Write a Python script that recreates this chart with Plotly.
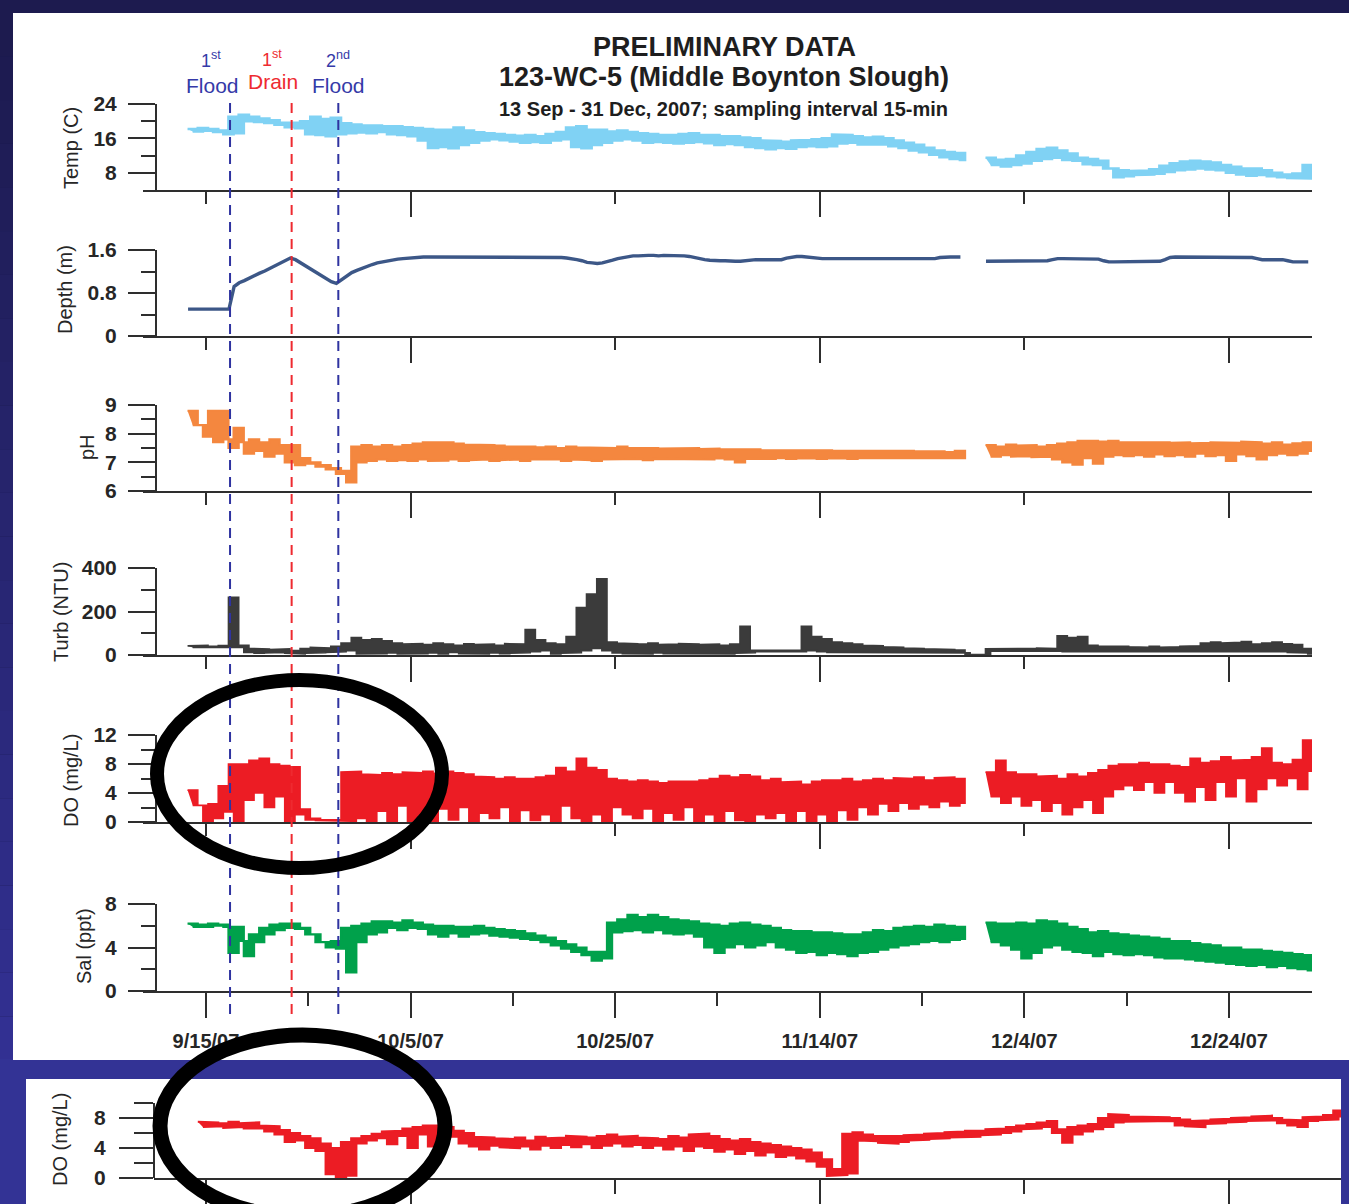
import pandas as pd
import plotly.graph_objects as go

W, H = 1349, 1204
T0 = pd.Timestamp("2007-09-13")   # day index 0

# ---------------- data (daily low / high, day 0 = 13 Sep 2007) ----------------
temp_lo = [17.6, 17.8, 17.5, 17.0, 17.2, 20.0, 19.8, 19.6, 19.2, 18.6,
           18.4, 17.0, 16.8, 16.5, 17.0, 17.2, 17.4, 17.2, 17.5, 17.0,
           16.8, 16.5, 15.5, 13.8, 14.0, 13.7, 14.5, 15.0, 15.5, 15.8,
           15.6, 15.3, 15.0, 15.2, 15.0, 15.5, 15.8, 14.0, 13.7, 14.5,
           15.0, 15.5, 15.8, 15.5, 15.0, 15.2, 15.0, 14.8, 15.0, 15.2,
           14.9, 14.5, 14.7, 14.5, 14.0, 13.8, 13.5, 13.8, 13.6, 14.0,
           14.2, 14.0, 14.2, 14.8, 15.0, 14.6, 14.5, 14.6, 14.2, 13.8,
           13.2, 12.8, 12.2, 11.6, 11.2, 11.0, None, None, 9.8, 9.5,
           9.8, 10.2, 10.8, 11.2, 11.5, 11.0, 10.8, 10.0, 9.8, 9.0,
           7.0, 7.2, 7.5, 7.6, 7.8, 8.2, 8.6, 8.8, 9.0, 8.8,
           8.6, 8.0, 7.6, 7.3, 7.5, 7.2, 7.0, 6.8, 6.8, 6.7]
temp_hi = [18.2, 18.4, 18.2, 17.8, 21.0, 21.5, 21.0, 20.6, 20.2, 19.6,
           19.6, 20.0, 21.0, 20.5, 20.8, 19.5, 19.2, 19.0, 19.0, 18.8,
           18.8, 18.6, 18.4, 18.2, 18.0, 18.0, 18.5, 17.8, 17.4, 17.2,
           17.0, 16.8, 16.6, 16.8, 16.5, 17.0, 17.5, 18.5, 18.8, 18.0,
           18.0, 17.6, 17.8, 17.5, 17.2, 17.0, 16.8, 16.8, 17.0, 17.2,
           16.8, 16.8, 16.5, 16.5, 16.2, 16.0, 15.5, 15.4, 15.2, 15.5,
           15.6, 15.8, 16.0, 16.9, 16.8, 16.5, 16.2, 16.4, 16.0, 15.5,
           15.0, 14.5, 13.8, 13.2, 12.8, 12.6, None, None, 11.5, 11.0,
           11.2, 12.0, 12.8, 13.5, 13.8, 13.2, 12.5, 11.5, 11.2, 10.8,
           9.0, 8.6, 8.4, 8.5, 8.8, 9.6, 10.2, 10.6, 10.8, 10.6,
           10.4, 9.8, 9.4, 9.0, 9.0, 8.6, 8.0, 7.6, 7.8, 9.8]

depth_lo = [0.5, 0.5, 0.5, 0.5, 0.5, 0.99, 1.08, 1.17, 1.26, 1.35,
            1.45, 1.36, 1.25, 1.13, 1.01, 1.05, 1.18, 1.26, 1.33, 1.38,
            1.42, 1.44, 1.46, 1.47, 1.47, 1.46, 1.47, 1.47, 1.46, 1.47,
            1.47, 1.46, 1.47, 1.47, 1.46, 1.47, 1.46, 1.45, 1.42, 1.37,
            1.35, 1.38, 1.44, 1.48, 1.49, 1.5, 1.49, 1.5, 1.49, 1.48,
            1.43, 1.41, 1.4, 1.39, 1.39, 1.42, 1.42, 1.42, 1.42, 1.47,
            1.48, 1.45, 1.44, 1.44, 1.44, 1.44, 1.45, 1.44, 1.44, 1.44,
            1.44, 1.44, 1.45, 1.44, 1.47, 1.47, None, None, 1.39, 1.39,
            1.39, 1.39, 1.39, 1.39, 1.4, 1.44, 1.44, 1.44, 1.44, 1.43,
            1.38, 1.38, 1.38, 1.38, 1.38, 1.39, 1.46, 1.47, 1.47, 1.47,
            1.47, 1.47, 1.47, 1.47, 1.46, 1.42, 1.42, 1.42, 1.38, 1.38]
depth_hi = [0.5, 0.5, 0.5, 0.5, 0.92, 1.03, 1.12, 1.21, 1.31, 1.4,
            1.42, 1.3, 1.19, 1.07, 0.98, 1.12, 1.22, 1.3, 1.36, 1.4,
            1.43, 1.45, 1.46, 1.47, 1.47, 1.46, 1.47, 1.47, 1.46, 1.47,
            1.47, 1.46, 1.47, 1.47, 1.46, 1.47, 1.46, 1.44, 1.4, 1.36,
            1.36, 1.41, 1.46, 1.49, 1.5, 1.5, 1.5, 1.5, 1.49, 1.46,
            1.42, 1.4, 1.4, 1.39, 1.4, 1.42, 1.42, 1.42, 1.45, 1.48,
            1.47, 1.44, 1.44, 1.44, 1.44, 1.45, 1.44, 1.44, 1.44, 1.44,
            1.44, 1.45, 1.44, 1.46, 1.47, 1.47, None, None, 1.39, 1.39,
            1.39, 1.39, 1.39, 1.39, 1.42, 1.44, 1.44, 1.44, 1.43, 1.4,
            1.38, 1.38, 1.38, 1.38, 1.38, 1.42, 1.47, 1.47, 1.47, 1.47,
            1.47, 1.47, 1.47, 1.47, 1.44, 1.42, 1.42, 1.4, 1.38, 1.38]

ph_lo = [8.3, 7.9, 7.7, 7.8, 8.2, 7.3, 7.4, 7.2, 7.3, 7.0,
         6.9, 6.95, 6.85, 6.75, 6.6, 6.3, 7.0, 7.05, 7.1, 7.05,
         7.08, 7.05, 7.1, 7.05, 7.06, 7.1, 7.05, 7.08, 7.1, 7.05,
         7.08, 7.1, 7.05, 7.1, 7.08, 7.1, 7.05, 7.1, 7.08, 7.05,
         7.1, 7.12, 7.1, 7.12, 7.08, 7.12, 7.1, 7.12, 7.1, 7.12,
         7.1, 7.14, 7.1, 7.0, 7.12, 7.14, 7.12, 7.15, 7.12, 7.14,
         7.15, 7.12, 7.14, 7.15, 7.12, 7.15, 7.14, 7.16, 7.14, 7.15,
         7.16, 7.14, 7.15, 7.16, 7.14, 7.15, None, None, 7.2, 7.25,
         7.2, 7.22, 7.18, 7.2, 7.1, 7.0, 6.92, 7.15, 6.95, 7.2,
         7.25, 7.22, 7.25, 7.2, 7.28, 7.22, 7.25, 7.2, 7.3, 7.22,
         7.25, 7.05, 7.28, 7.22, 7.1, 7.25, 7.3, 7.25, 7.3, 7.4]
ph_hi = [8.8, 8.3, 8.8, 8.8, 7.5, 7.7, 7.8, 7.7, 7.8, 7.6,
         7.6, 7.15, 7.0, 6.9, 6.8, 6.7, 7.55, 7.6, 7.55, 7.6,
         7.55, 7.6, 7.65, 7.7, 7.68, 7.7, 7.65, 7.62, 7.6, 7.6,
         7.58, 7.55, 7.56, 7.55, 7.52, 7.55, 7.5, 7.55, 7.52, 7.5,
         7.52, 7.5, 7.55, 7.5, 7.52, 7.5, 7.48, 7.5, 7.48, 7.5,
         7.46, 7.48, 7.45, 7.46, 7.44, 7.45, 7.42, 7.44, 7.42, 7.43,
         7.42, 7.44, 7.42, 7.4, 7.42, 7.4, 7.42, 7.4, 7.4, 7.42,
         7.4, 7.38, 7.4, 7.38, 7.36, 7.4, None, None, 7.6, 7.55,
         7.62, 7.58, 7.6, 7.55, 7.6, 7.65, 7.7, 7.75, 7.75, 7.72,
         7.75, 7.7, 7.72, 7.7, 7.72, 7.7, 7.68, 7.7, 7.66, 7.68,
         7.7, 7.7, 7.68, 7.72, 7.7, 7.65, 7.7, 7.62, 7.66, 7.7]

turb_lo = [35, 38, 36, 38, 35, 12, 8, 10, 12, 8,
           5, 8, 10, 12, 15, 20, 5, 8, 6, 10,
           5, 8, 6, 10, 5, 12, 6, 8, 5, 10,
           6, 8, 10, 15, 20, 5, 8, 10, 20, 30,
           20, 10, 6, 8, 5, 10, 6, 8, 5, 8,
           6, 8, 5, 8, 10, 15, 16, 15, 16, 15,
           20, 15, 12, 10, 12, 10, 10, 12, 10, 10,
           10, 12, 10, 10, 12, 10, 2, 2, 18, 20,
           18, 20, 18, 20, 18, 15, 15, 12, 15, 12,
           15, 12, 15, 15, 12, 15, 12, 15, 15, 15,
           12, 15, 15, 12, 15, 12, 15, 12, 10, 5]
turb_hi = [42, 45, 40, 44, 265, 45, 30, 28, 25, 28,
           20, 30, 35, 32, 40, 55, 80, 70, 75, 65,
           55, 50, 52, 48, 55, 50, 45, 52, 48, 50,
           45, 52, 50, 117, 70, 55, 50, 85, 218, 280,
           350, 60, 55, 52, 50, 55, 48, 50, 52, 50,
           48, 50, 45, 50, 132, 22, 20, 22, 20, 22,
           132, 85, 75, 60, 55, 50, 45, 42, 38, 35,
           32, 30, 28, 26, 25, 23, 2, 2, 28, 30,
           30, 28, 30, 32, 30, 88, 80, 85, 45, 40,
           42, 40, 38, 35, 40, 35, 38, 40, 42, 55,
           60, 55, 58, 62, 50, 55, 60, 52, 48, 30]

do_lo = [2.3, 0.0, 0.5, 1.4, 0.0, 3.0, 4.0, 2.0, 3.5, 0.0,
         1.0, 0.3, 0.2, 0.2, 0.2, 0.1, 0.5, 0.0, 1.5, 0.0,
         2.2, 0.0, 1.0, 0.0, 1.8, 0.3, 2.0, 0.0, 1.2, 0.5,
         2.0, 0.0, 1.6, 0.2, 1.0, 0.0, 2.2, 0.5, 0.0, 1.0,
         0.0, 2.0, 1.0, 0.5, 1.8, 0.0, 1.2, 0.3, 2.0, 0.0,
         1.0, 0.0, 1.5, 0.2, 0.0, 1.0, 0.5, 1.2, 0.0, 1.5,
         0.0, 1.0, 0.0, 1.6, 0.3, 2.0, 1.0, 2.5, 1.5, 2.6,
         1.8, 2.4, 2.0, 2.8, 2.2, 2.6, None, None, 3.5, 2.6,
         3.5, 2.2, 3.0, 1.5, 2.6, 1.0, 2.0, 3.0, 1.2, 3.5,
         4.5, 5.0, 4.4, 5.5, 4.0, 5.5, 4.0, 2.8, 4.8, 3.0,
         5.5, 3.5, 6.0, 2.8, 4.5, 6.0, 5.0, 6.0, 4.5, 7.0]
do_hi = [4.4, 2.3, 2.5, 5.0, 8.0, 8.0, 8.5, 8.8, 8.0, 7.8,
         7.6, 1.8, 0.5, 0.3, 0.3, 6.9, 7.0, 6.6, 6.5, 6.8,
         6.6, 6.9, 6.8, 7.0, 6.7, 7.0, 6.8, 6.6, 6.3, 6.2,
         6.0, 6.2, 6.0, 6.0, 6.2, 6.4, 7.5, 7.0, 8.8, 7.5,
         7.2, 6.0, 5.8, 5.6, 5.8, 5.6, 5.4, 5.6, 5.5, 5.6,
         5.8, 6.0, 6.4, 6.2, 6.5, 6.3, 5.8, 6.0, 5.5, 5.6,
         5.2, 5.6, 5.8, 5.8, 6.0, 5.6, 5.8, 6.0, 5.8, 6.1,
         6.0, 6.2, 5.8, 6.1, 6.2, 6.0, None, None, 6.9, 8.5,
         6.9, 6.6, 6.6, 6.3, 6.4, 6.0, 6.6, 6.3, 6.8, 7.2,
         7.8, 8.0, 8.0, 8.2, 8.0, 8.0, 7.8, 7.6, 8.8, 8.2,
         8.4, 9.0, 8.5, 8.6, 9.0, 10.2, 8.2, 8.0, 8.6, 11.3]

sal_lo = [5.9, 5.9, 6.0, 5.9, 5.9, 3.2, 4.5, 5.2, 5.6, 5.8,
          5.7, 5.2, 4.5, 4.0, 3.9, 1.7, 4.5, 5.2, 5.4, 5.8,
          5.6, 5.8, 5.7, 5.2, 5.0, 5.3, 5.0, 5.2, 5.3, 5.1,
          5.0, 4.9, 4.8, 4.7, 4.5, 4.2, 3.9, 3.6, 3.3, 2.8,
          3.0, 5.4, 5.5, 5.6, 5.4, 5.6, 5.3, 5.2, 5.3, 5.0,
          4.0, 3.5, 4.0, 4.3, 4.0, 4.2, 4.5, 4.0, 3.8, 3.5,
          3.6, 3.3, 3.5, 3.4, 3.2, 3.5, 3.6, 3.8, 4.0, 4.2,
          4.3, 4.5, 4.6, 4.5, 4.7, 4.8, None, None, 4.5, 4.2,
          3.8, 3.0, 3.5, 4.0, 4.2, 3.8, 3.6, 3.5, 3.2, 3.6,
          3.4, 3.3, 3.4, 3.3, 3.1, 3.0, 3.0, 2.9, 2.8, 2.7,
          2.6, 2.5, 2.4, 2.3, 2.4, 2.2, 2.3, 2.1, 2.0, 1.9]
sal_hi = [6.2, 6.1, 6.2, 6.1, 3.5, 4.6, 5.2, 5.8, 6.1, 6.2,
          6.2, 5.8, 5.2, 4.5, 4.6, 5.8, 6.0, 6.2, 6.4, 6.4,
          6.3, 6.5, 6.3, 6.1, 6.0, 6.0, 5.9, 5.9, 6.0, 5.8,
          5.7, 5.6, 5.5, 5.3, 5.1, 4.9, 4.6, 4.3, 4.0, 3.6,
          3.6, 6.3, 6.6, 7.0, 6.8, 7.0, 6.8, 6.6, 6.5, 6.4,
          6.2, 6.1, 6.0, 6.2, 6.3, 6.1, 6.0, 5.8, 5.6, 5.5,
          5.5, 5.4, 5.4, 5.3, 5.2, 5.2, 5.4, 5.6, 5.5, 5.8,
          5.9, 6.0, 5.9, 6.1, 6.0, 5.9, None, None, 6.3, 6.2,
          6.2, 6.3, 6.2, 6.5, 6.4, 6.2, 5.9, 5.7, 5.4, 5.5,
          5.3, 5.2, 5.1, 5.0, 4.9, 4.8, 4.6, 4.6, 4.4, 4.3,
          4.2, 4.0, 4.0, 3.8, 3.8, 3.7, 3.6, 3.5, 3.4, 3.3]

# lower strip: second DO record
do2_lo = [None, 6.8, 6.9, 6.7, 6.8, 6.6, 6.6, 6.2, 5.8, 4.8,
          5.0, 4.0, 3.6, 0.5, 0.0, 0.3, 4.6, 5.0, 5.3, 4.5,
          5.6, 4.0, 5.8, 4.2, 6.0, 5.5, 4.6, 4.2, 3.8, 4.3,
          4.1, 4.0, 4.2, 3.8, 4.3, 4.0, 4.4, 4.1, 4.5, 4.0,
          4.3, 4.6, 4.2, 4.4, 4.0, 4.3, 3.8, 4.2, 3.6, 4.2,
          4.0, 3.5, 3.8, 3.2, 3.6, 3.0, 3.4, 2.8, 3.0, 2.6,
          2.2, 1.5, 0.3, 0.4, 0.6, 5.0, 4.9, 4.7, 4.6, 4.8,
          5.0, 5.1, 5.2, 5.3, 5.4, 5.5, 5.5, 5.7, 5.8, 6.0,
          6.2, 6.5, 6.6, 6.8, 6.0, 4.7, 5.8, 6.2, 6.5, 6.8,
          7.4, 7.5, 7.6, 7.5, 7.6, 7.6, 7.0, 6.9, 6.8, 7.2,
          7.3, 7.4, 7.5, 7.6, 7.6, 7.7, 7.3, 7.0, 6.8, 7.6,
          7.7, 7.8, 8.2]
do2_hi = [None, 7.5, 7.4, 7.3, 7.5, 7.3, 7.4, 7.0, 6.9, 6.4,
          6.0, 5.6, 5.3, 4.6, 4.0, 4.8, 5.3, 5.6, 5.9, 6.2,
          6.3, 6.6, 6.8, 7.0, 7.0, 6.8, 6.3, 6.0, 5.5, 5.4,
          5.3, 5.2, 5.4, 5.0, 5.5, 5.3, 5.4, 5.6, 5.5, 5.4,
          5.6, 5.8, 5.5, 5.6, 5.4, 5.3, 5.2, 5.6, 5.4, 5.8,
          5.9, 5.6, 5.2, 5.0, 5.2, 4.8, 4.6, 4.4, 4.2, 4.0,
          3.8, 3.4, 2.5, 1.2, 5.9, 6.1, 5.8, 5.6, 5.5, 5.6,
          5.7, 5.8, 5.9, 6.0, 6.1, 6.2, 6.3, 6.3, 6.5, 6.6,
          6.8, 7.0, 7.2, 7.4, 7.6, 6.5, 6.8, 7.0, 7.2, 8.0,
          8.5, 8.4, 8.2, 8.2, 8.1, 8.1, 8.0, 7.8, 7.6, 7.7,
          7.8, 7.9, 8.0, 8.1, 8.2, 8.3, 8.0, 7.8, 7.7, 8.1,
          8.2, 8.4, 9.0]

events = ["2007-09-17 08:30", "2007-09-23 09:00", "2007-09-27 22:30"]
date_ticks = ["2007-09-15", "2007-10-05", "2007-10-25", "2007-11-14", "2007-12-04", "2007-12-24"]
date_labels = ["9/15/07", "10/5/07", "10/25/07", "11/14/07", "12/4/07", "12/24/07"]
ten_day_ticks = ["2007-09-25", "2007-10-15", "2007-11-04", "2007-11-24", "2007-12-14"]

# ---------------- helpers ----------------
def px_x(p):
    return p / W

def px_y(p):
    return 1 - p / H

def px_date(p):
    return T0 + pd.Timedelta(days=(p - 185.5) / 10.23)

def day(d):
    return T0 + pd.Timedelta(days=d)

def band_xy(lo, hi):
    """Closed step polygon between daily low and high (one polygon per contiguous run)."""
    segs, cur = [], []
    for i, (a, b) in enumerate(zip(lo, hi)):
        if a is None or b is None:
            if cur:
                segs.append(cur)
                cur = []
        else:
            cur.append((i, a, b))
    if cur:
        segs.append(cur)
    xs, ys = [], []
    for seg in segs:
        upper, lower = [], []
        for i, a, b in seg:
            upper += [(i + 0.2, b), (i + 1.2, b)]
            lower += [(i + 0.7, a), (i + 1.7, a)]
        lower[-1] = (seg[-1][0] + 1.2, lower[-1][1])
        pts = upper + lower[::-1]
        xs += [day(d) for d, _ in pts] + [None]
        ys += [v for _, v in pts] + [None]
    return xs, ys

def line_xy(lo, hi):
    xs, ys = [], []
    for i, (a, b) in enumerate(zip(lo, hi)):
        xs += [day(i + 0.25), day(i + 0.75)]
        ys += [a, b]
    return xs, ys

FONT = "Liberation Sans, Arial, sans-serif"
AX = "#2e2e2e"
TXT = "#262626"

panels = [
    dict(title="Temp (C)", top=104, bot=190, rng=[4, 24], major=[8, 16, 24], minor=[12, 20],
         lo=temp_lo, hi=temp_hi, color="#80d2f4", width=2.6, kind="band", tpos=(71, 148)),
    dict(title="Depth (m)", top=250, bot=336, rng=[0, 1.6], major=[0, 0.8, 1.6], minor=[0.4, 1.2],
         lo=depth_lo, hi=depth_hi, color="#3c5787", width=3.4, kind="line", tpos=(65, 290)),
    dict(title="pH", top=405, bot=491, rng=[6, 9], major=[6, 7, 8, 9], minor=[6.5, 7.5, 8.5],
         lo=ph_lo, hi=ph_hi, color="#f4873f", width=2.2, kind="band", tpos=(87, 447)),
    dict(title="Turb (NTU)", top=568, bot=655, rng=[0, 400], major=[0, 200, 400], minor=[100, 300],
         lo=turb_lo, hi=turb_hi, color="#3b3b3b", width=1.6, kind="band", tpos=(61, 612)),
    dict(title="DO (mg/L)", top=735, bot=822, rng=[0, 12], major=[0, 4, 8, 12], minor=[2, 6, 10],
         lo=do_lo, hi=do_hi, color="#ec1c24", width=1.6, kind="band", tpos=(71, 781)),
    dict(title="Sal (ppt)", top=904, bot=991, rng=[0, 8], major=[0, 4, 8], minor=[2, 6],
         lo=sal_lo, hi=sal_hi, color="#00a14b", width=2.2, kind="band", tpos=(84, 946)),
    dict(title="DO (mg/L)", top=1103, bot=1178, rng=[0, 10], major=[0, 4, 8], minor=[2, 6, 10],
         lo=do2_lo, hi=do2_hi, color="#ec1c24", width=2.2, kind="band", tpos=(60, 1140)),
]

fig = go.Figure()
layout = dict(
    template="none",
    width=W, height=H, margin=dict(l=0, r=0, t=0, b=0, pad=0, autoexpand=False),
    paper_bgcolor="#1d1b4f", plot_bgcolor="rgba(0,0,0,0)",
    showlegend=False, hovermode=False,
    font=dict(family=FONT, color=TXT),
)

shapes = []
nb = 24
for k in range(nb):
    f = k / (nb - 1)
    r = int(29 + (50 - 29) * f)
    g = int(27 + (48 - 27) * f)
    b = int(79 + (146 - 79) * f)
    shapes.append(dict(type="rect", xref="paper", yref="paper", layer="below",
                       x0=0, x1=px_x(13), y0=px_y(13 + (1060 - 13) * (k + 1) / nb),
                       y1=px_y(13 + (1060 - 13) * k / nb),
                       fillcolor=f"rgb({r},{g},{b})", line=dict(width=0)))
shapes.append(dict(type="rect", xref="paper", yref="paper", layer="below",
                   x0=0, x1=1, y0=0, y1=px_y(1059), fillcolor="#333395", line=dict(width=0)))
shapes.append(dict(type="rect", xref="paper", yref="paper", layer="below",
                   x0=px_x(13), x1=1, y0=px_y(1060), y1=px_y(13), fillcolor="white", line=dict(width=0)))
shapes.append(dict(type="rect", xref="paper", yref="paper", layer="below",
                   x0=px_x(26), x1=px_x(1341), y0=0, y1=px_y(1079), fillcolor="white", line=dict(width=0)))

annotations = []
for i, p in enumerate(panels):
    n = i + 1
    xk = "xaxis" if n == 1 else f"xaxis{n}"
    yk = "yaxis" if n == 1 else f"yaxis{n}"
    xref = "x" if n == 1 else f"x{n}"
    yref = "y" if n == 1 else f"y{n}"
    if p["kind"] == "band":
        xs, ys = band_xy(p["lo"], p["hi"])
        fig.add_trace(go.Scatter(x=xs, y=ys, mode="lines", fill="toself", fillcolor=p["color"],
                                 line=dict(color=p["color"], width=p["width"]),
                                 xaxis=xref, yaxis=yref, hoverinfo="skip"))
    else:
        xs, ys = line_xy(p["lo"], p["hi"])
        fig.add_trace(go.Scatter(x=xs, y=ys, mode="lines",
                                 line=dict(color=p["color"], width=p["width"]),
                                 xaxis=xref, yaxis=yref, hoverinfo="skip", connectgaps=False))
    strip = (n == 7)
    x_left = 154 if strip else 143
    x_right = 1341 if strip else 1312
    yaxis_pos = 154 if strip else 156
    xa = dict(domain=[px_x(x_left), px_x(x_right)], range=[px_date(x_left), px_date(x_right)],
              anchor=yref, type="date", automargin=False,
              showline=True, linecolor=AX, linewidth=2, showgrid=False, zeroline=False,
              ticks="outside", tickcolor=AX, tickwidth=2, fixedrange=True)
    if n == 6:
        xa.update(tickmode="array", tickvals=date_ticks, ticktext=date_labels, ticklen=25,
                  showticklabels=True, ticklabelstandoff=6,
                  tickfont=dict(family=FONT, size=20, color=TXT, weight="bold"),
                  minor=dict(tickmode="array", tickvals=ten_day_ticks, ticklen=13,
                             tickcolor=AX, tickwidth=2, ticks="outside", showgrid=False))
    elif strip:
        xa.update(tickmode="array", tickvals=["2007-09-15", "2007-10-05", "2007-11-14", "2007-12-24"],
                  ticklen=30, showticklabels=False,
                  minor=dict(tickmode="array", tickvals=["2007-10-25", "2007-12-04"], ticklen=14,
                             tickcolor=AX, tickwidth=2, ticks="outside", showgrid=False))
    else:
        xa.update(tickmode="array", tickvals=["2007-10-05", "2007-11-14", "2007-12-24"], ticklen=25,
                  showticklabels=False,
                  minor=dict(tickmode="array", tickvals=["2007-09-15", "2007-10-25", "2007-12-04"],
                             ticklen=12, tickcolor=AX, tickwidth=2, ticks="outside", showgrid=False))
    ya = dict(domain=[px_y(p["bot"]), px_y(p["top"])], range=p["rng"], anchor="free",
              position=px_x(yaxis_pos), showline=True, linecolor=AX, linewidth=2, automargin=False,
              showgrid=False, zeroline=False, ticks="outside", tickcolor=AX, tickwidth=2,
              ticklen=34 if strip else 27, tickmode="array", tickvals=p["major"],
              ticklabelstandoff=9 if strip else 7,
              tickfont=dict(family=FONT, size=21, color=TXT, weight="bold"),
              minor=dict(tickmode="array", tickvals=p["minor"], ticklen=19 if strip else 14,
                         tickcolor=AX, tickwidth=2, ticks="outside", showgrid=False),
              fixedrange=True)
    layout[xk] = xa
    layout[yk] = ya
    annotations.append(dict(text=p["title"], xref="paper", yref="paper",
                            x=px_x(p["tpos"][0]), y=px_y(p["tpos"][1]), textangle=-90,
                            showarrow=False, xanchor="center", yanchor="middle",
                            font=dict(family=FONT, size=20, color=TXT)))

# event markers (dashed verticals)
ev_colors = ["#2f33a0", "#ee2a30", "#2f33a0"]
for ev, c in zip(events, ev_colors):
    shapes.append(dict(type="line", xref="x6", yref="paper", x0=ev, x1=ev,
                       y0=px_y(1014), y1=px_y(97), layer="above",
                       line=dict(color=c, width=2, dash="10px,7px")))

# highlight ellipses
shapes.append(dict(type="circle", xref="paper", yref="paper", layer="above",
                   x0=px_x(157), x1=px_x(442), y0=px_y(868), y1=px_y(680),
                   line=dict(color="black", width=14)))
shapes.append(dict(type="circle", xref="paper", yref="paper", layer="above",
                   x0=px_x(160), x1=px_x(445), y0=px_y(1217), y1=px_y(1035),
                   line=dict(color="black", width=15)))

blue_txt, red_txt = "#353aa8", "#ee2a30"
ev_labels = [("1<sup>st</sup>", 211, 60, blue_txt), ("Flood", 212, 85, blue_txt),
             ("1<sup>st</sup>", 272, 58, red_txt), ("Drain", 273, 81, red_txt),
             ("2<sup>nd</sup>", 338, 60, blue_txt), ("Flood", 338, 85, blue_txt)]
for t, x, y, c in ev_labels:
    annotations.append(dict(text=t, xref="paper", yref="paper", x=px_x(x), y=px_y(y),
                            showarrow=False, xanchor="center", yanchor="middle",
                            font=dict(family=FONT, size=21 if "<sup>" not in t else 18, color=c)))

titles = [("PRELIMINARY DATA", 724, 47, 27), ("123-WC-5 (Middle Boynton Slough)", 724, 77, 27),
          ("13 Sep - 31 Dec, 2007; sampling interval 15-min", 723, 109, 20)]
for t, x, y, s in titles:
    annotations.append(dict(text=t, xref="paper", yref="paper", x=px_x(x), y=px_y(y),
                            showarrow=False, xanchor="center", yanchor="middle",
                            font=dict(family=FONT, size=s, color="#1e1e1e", weight="bold")))

layout["shapes"] = shapes
layout["annotations"] = annotations
fig.update_layout(**layout)
fig.write_html("out.html",
               post_script="document.body.style.margin='0';document.body.style.overflow='hidden';")
